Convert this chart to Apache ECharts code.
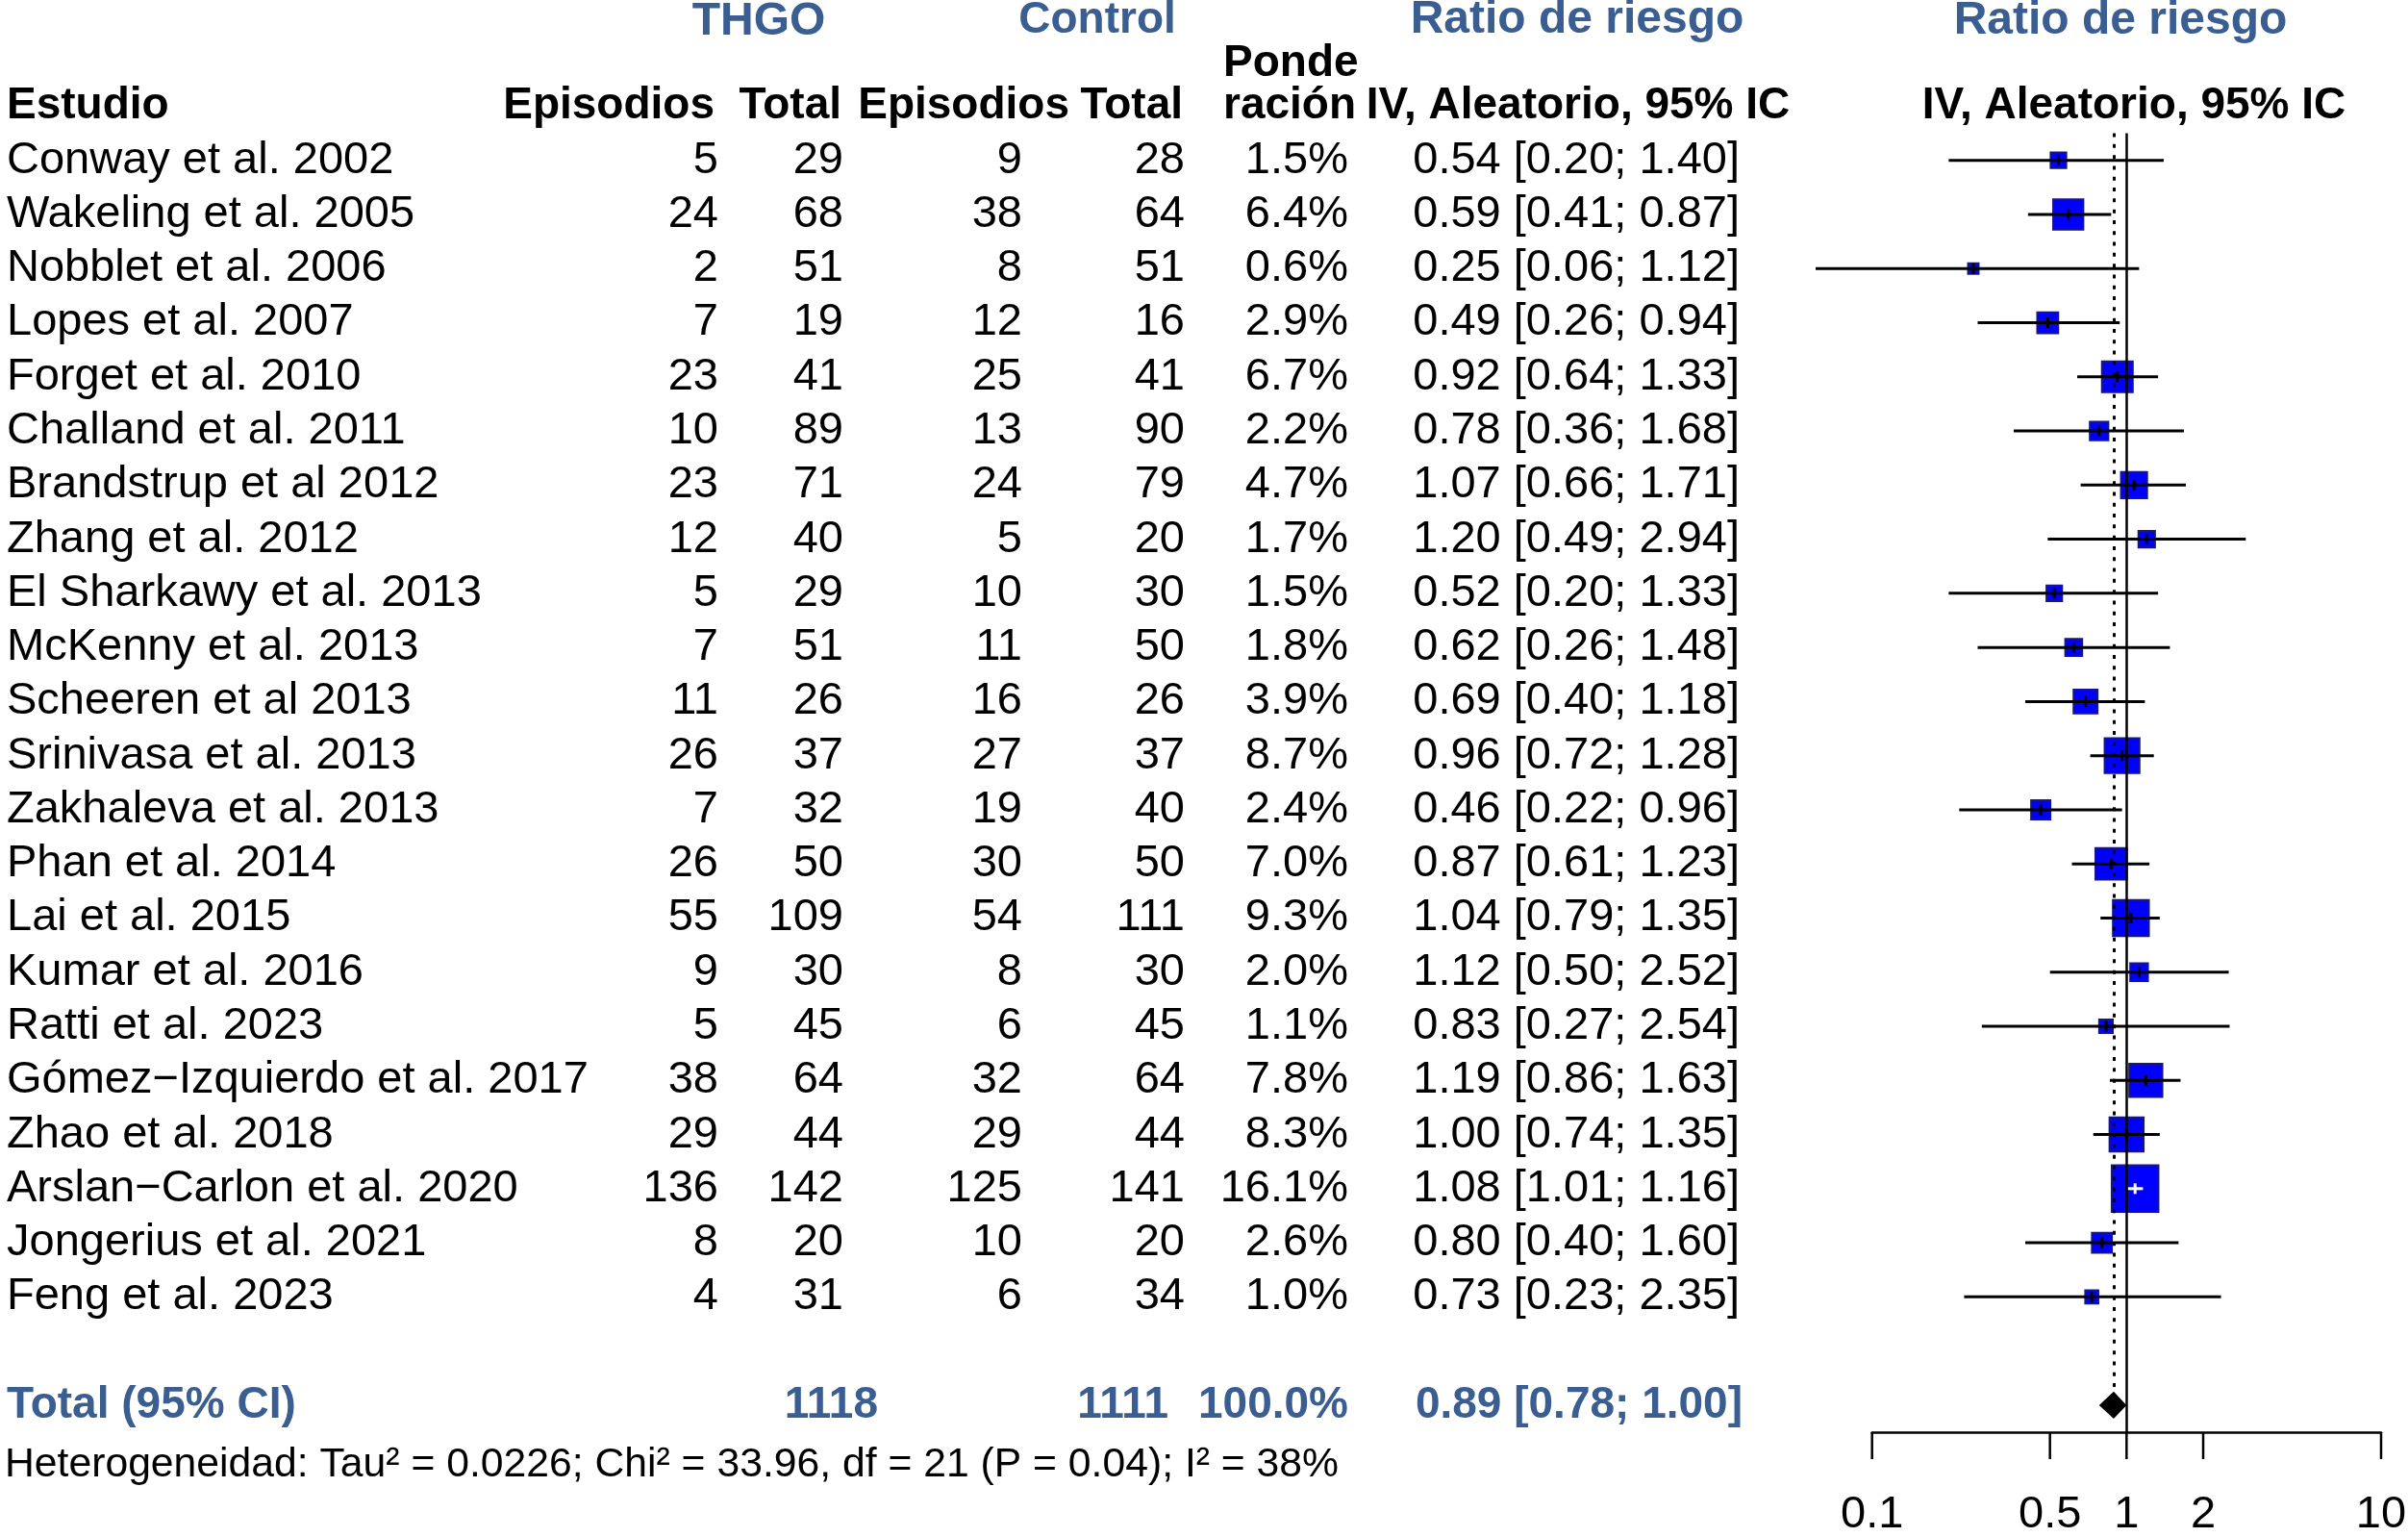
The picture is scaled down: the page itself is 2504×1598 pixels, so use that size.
<!DOCTYPE html>
<html>
<head>
<meta charset="utf-8">
<script src="https://cdn.jsdelivr.net/npm/echarts@6/dist/echarts.min.js"></script>
<style>
html,body{margin:0;padding:0;background:#ffffff;}
#c{width:2504px;height:1598px;}
</style>
</head>
<body>
<div id="c"></div>
<script>
// ---------------- DATA ----------------
const studies = [
  'Conway et al. 2002','Wakeling et al. 2005','Nobblet et al. 2006','Lopes et al. 2007',
  'Forget et al. 2010','Challand et al. 2011','Brandstrup et al 2012','Zhang et al. 2012',
  'El Sharkawy et al. 2013','McKenny et al. 2013','Scheeren et al 2013','Srinivasa et al. 2013',
  'Zakhaleva et al. 2013','Phan et al. 2014','Lai et al. 2015','Kumar et al. 2016',
  'Ratti et al. 2023','Gómez\u2212Izquierdo et al. 2017','Zhao et al. 2018','Arslan\u2212Carlon et al. 2020',
  'Jongerius et al. 2021','Feng et al. 2023'
];
const eventsTHGO = [5,24,2,7,23,10,23,12,5,7,11,26,7,26,55,9,5,38,29,136,8,4];
const totalTHGO  = [29,68,51,19,41,89,71,40,29,51,26,37,32,50,109,30,45,64,44,142,20,31];
const eventsCtrl = [9,38,8,12,25,13,24,5,10,11,16,27,19,30,54,8,6,32,29,125,10,6];
const totalCtrl  = [28,64,51,16,41,90,79,20,30,50,26,37,40,50,111,30,45,64,44,141,20,34];
const weights    = [1.5,6.4,0.6,2.9,6.7,2.2,4.7,1.7,1.5,1.8,3.9,8.7,2.4,7.0,9.3,2.0,1.1,7.8,8.3,16.1,2.6,1.0];
const riskRatio  = [0.54,0.59,0.25,0.49,0.92,0.78,1.07,1.20,0.52,0.62,0.69,0.96,0.46,0.87,1.04,1.12,0.83,1.19,1.00,1.08,0.80,0.73];
const ciLow      = [0.20,0.41,0.06,0.26,0.64,0.36,0.66,0.49,0.20,0.26,0.40,0.72,0.22,0.61,0.79,0.50,0.27,0.86,0.74,1.01,0.40,0.23];
const ciHigh     = [1.40,0.87,1.12,0.94,1.33,1.68,1.71,2.94,1.33,1.48,1.18,1.28,0.96,1.23,1.35,2.52,2.54,1.63,1.35,1.16,1.60,2.35];
const pooledTotals = [1118, 1111];
const pooledWeight = [100.0];
const pooledEffect = [0.89, 0.78, 1.00];   // estimate, low, high
const axisTicks = [0.1, 0.5, 1, 2, 10];
const heterogeneityText = 'Heterogeneidad: Tau\u00b2 = 0.0226; Chi\u00b2 = 33.96, df = 21 (P = 0.04); I\u00b2 = 38%';

// ---------------- LAYOUT ----------------
const W = 2504, H = 1598;
const ROW0 = 166.7, ROWH = 56.27;
const X_LEFT = 1946.7, X_RIGHT = 2476.0;
const Y_MIN = -0.5, Y_MAX = 23.5;
const FONT = "'Liberation Sans', Arial, Helvetica, sans-serif";
const BLUE = '#3A5E91';
const SQ_SCALE = 11.6, SQ_PAD = 2, EST_TICK = 11;
const TOTAL_ROW = 23, HET_ROW = 24.1;
const FS = 47, FSB = 46, FST = 48;

const fmt2 = v => v.toFixed(2);
const rrText = (e, l, h) => fmt2(e) + ' [' + fmt2(l) + '; ' + fmt2(h) + ']';

const items = [];
function add(x, row, text, align, size, weight, color) {
  items.push({x, row, text: String(text), align, size, weight, color});
}
// top headers
add(789, -2.56, 'THGO', 'center', FST, 'bold', BLUE);
add(1141, -2.59, 'Control', 'center', 46, 'bold', BLUE);
add(1640, -2.59, 'Ratio de riesgo', 'center', FST, 'bold', BLUE);
add(2205, -2.58, 'Ratio de riesgo', 'center', FST, 'bold', BLUE);
add(1272, -1.79, 'Ponde', 'left', FSB, 'bold', '#000');
add(7, -1, 'Estudio', 'left', FSB, 'bold', '#000');
add(743, -1, 'Episodios', 'right', FSB, 'bold', '#000');
add(875, -1, 'Total', 'right', FSB, 'bold', '#000');
add(1112, -1, 'Episodios', 'right', FSB, 'bold', '#000');
add(1230, -1, 'Total', 'right', FSB, 'bold', '#000');
add(1272, -1, 'ración', 'left', FSB, 'bold', '#000');
add(1641, -1, 'IV, Aleatorio, 95% IC', 'center', FSB, 'bold', '#000');
add(2219, -1, 'IV, Aleatorio, 95% IC', 'center', FSB, 'bold', '#000');
// study rows
studies.forEach((s, i) => {
  add(7, i, s, 'left', FS, 'normal', '#000');
  add(747, i, eventsTHGO[i], 'right', FS, 'normal', '#000');
  add(877, i, totalTHGO[i], 'right', FS, 'normal', '#000');
  add(1063, i, eventsCtrl[i], 'right', FS, 'normal', '#000');
  add(1232, i, totalCtrl[i], 'right', FS, 'normal', '#000');
  add(1402, i, weights[i].toFixed(1) + '%', 'right', FS, 'normal', '#000');
  add(1809, i, rrText(riskRatio[i], ciLow[i], ciHigh[i]), 'right', FS, 'normal', '#000');
});
// totals
add(7, TOTAL_ROW, 'Total (95% CI)', 'left', 46, 'bold', BLUE);
add(913, TOTAL_ROW, pooledTotals[0], 'right', 46, 'bold', BLUE);
add(1215, TOTAL_ROW, pooledTotals[1], 'right', 46, 'bold', BLUE);
add(1402, TOTAL_ROW, pooledWeight[0].toFixed(1) + '%', 'right', 46, 'bold', BLUE);
add(1812, TOTAL_ROW, rrText(pooledEffect[0], pooledEffect[1], pooledEffect[2]), 'right', 46, 'bold', BLUE);
add(5, HET_ROW, heterogeneityText, 'left', 42.7, 'normal', '#000');

const studyData = studies.map((s, i) => [riskRatio[i], i, ciLow[i], ciHigh[i], weights[i]]);
const pooledData = [[pooledEffect[0], TOTAL_ROW, pooledEffect[1], pooledEffect[2]]];

const chart = echarts.init(document.getElementById('c'), null, {renderer: 'canvas', width: W, height: H});

const option = {
  backgroundColor: '#ffffff',
  animation: false,
  grid: [
    {left: X_LEFT, width: X_RIGHT - X_LEFT, top: ROW0 + Y_MIN * ROWH, height: (Y_MAX - Y_MIN) * ROWH},
    {left: 0, top: 0, width: W, height: H}
  ],
  xAxis: [
    {
      gridIndex: 0, type: 'log', logBase: 10, min: 0.1, max: 10,
      axisLine: {show: true, onZero: false, lineStyle: {color: '#000', width: 2.5}},
      axisTick: {show: false}, axisLabel: {show: false}, splitLine: {show: false}
    },
    {gridIndex: 1, type: 'value', min: 0, max: W, show: false}
  ],
  yAxis: [
    {gridIndex: 0, type: 'value', inverse: true, min: Y_MIN, max: Y_MAX, show: false},
    {gridIndex: 1, type: 'value', inverse: true, min: -ROW0 / ROWH, max: (H - ROW0) / ROWH, show: false}
  ],
  series: [
    {
      type: 'line', xAxisIndex: 0, yAxisIndex: 0, data: [], silent: true,
      markLine: {
        silent: true, symbol: 'none', label: {show: false}, animation: false,
        data: [
          {xAxis: 1, lineStyle: {color: '#000', width: 2.5, type: 'solid'}},
          [
            {coord: [pooledEffect[0], Y_MIN], lineStyle: {color: '#000', width: 3, type: [4, 7.3]}},
            {coord: [pooledEffect[0], TOTAL_ROW - 0.25]}
          ]
        ]
      }
    },
    {
      type: 'custom', xAxisIndex: 0, yAxisIndex: 0, clip: false, silent: true,
      data: studyData,
      encode: {x: [0, 2, 3], y: 1},
      renderItem: function (params, api) {
        const est = api.value(0), row = api.value(1), lo = api.value(2), hi = api.value(3), w = api.value(4);
        const c = api.coord([est, row]);
        const a = api.coord([lo, row]);
        const b = api.coord([hi, row]);
        const side = SQ_SCALE * Math.sqrt(w) + SQ_PAD;
        const inside = a[0] >= c[0] - side / 2 && b[0] <= c[0] + side / 2;
        const lc = inside ? '#ffffff' : '#000000';
        return {
          type: 'group',
          children: [
            {type: 'rect', shape: {x: c[0] - side / 2, y: c[1] - side / 2, width: side, height: side},
             style: {fill: '#0000FF', stroke: '#16168A', lineWidth: 2}},
            {type: 'line', shape: {x1: a[0], y1: c[1], x2: b[0], y2: c[1]}, style: {stroke: lc, lineWidth: 3}},
            {type: 'line', shape: {x1: c[0], y1: c[1] - EST_TICK / 2, x2: c[0], y2: c[1] + EST_TICK / 2},
             style: {stroke: lc, lineWidth: 3}}
          ]
        };
      }
    },
    {
      type: 'custom', xAxisIndex: 0, yAxisIndex: 0, clip: false, silent: true,
      data: pooledData,
      encode: {x: [0, 2, 3], y: 1},
      renderItem: function (params, api) {
        const est = api.value(0), row = api.value(1), lo = api.value(2), hi = api.value(3);
        const c = api.coord([est, row]);
        const a = api.coord([lo, row]);
        const b = api.coord([hi, row]);
        const hh = Math.abs(api.coord([est, row + 0.25])[1] - c[1]);
        return {
          type: 'polygon',
          shape: {points: [[a[0], c[1]], [c[0], c[1] - hh], [b[0], c[1]], [c[0], c[1] + hh]]},
          style: {fill: '#000000'}
        };
      }
    },
    {
      type: 'custom', xAxisIndex: 0, yAxisIndex: 0, clip: false, silent: true,
      data: axisTicks.map(v => [v, Y_MAX]),
      encode: {x: 0, y: 1},
      renderItem: function (params, api) {
        const v = api.value(0);
        const p = api.coord([v, api.value(1)]);
        return {
          type: 'group',
          children: [
            {type: 'line', shape: {x1: p[0], y1: p[1], x2: p[0], y2: p[1] + 28}, style: {stroke: '#000', lineWidth: 2.5}},
            {type: 'text', x: p[0], y: p[1] + 86,
             style: {text: String(axisTicks[params.dataIndex]), align: 'center', verticalAlign: 'middle',
                     fontSize: 47, fontFamily: FONT, fill: '#000'}}
          ]
        };
      }
    },
    {
      type: 'custom', xAxisIndex: 1, yAxisIndex: 1, clip: false, silent: true,
      data: items.map(it => [it.x, it.row]),
      encode: {x: 0, y: 1},
      renderItem: function (params, api) {
        const it = items[params.dataIndex];
        const p = api.coord([api.value(0), api.value(1)]);
        return {
          type: 'text', x: p[0], y: p[1],
          style: {text: it.text, align: it.align, verticalAlign: 'middle',
                  fontSize: it.size, fontWeight: it.weight, fontFamily: FONT, fill: it.color}
        };
      }
    }
  ]
};
chart.setOption(option);
</script>
</body>
</html>
